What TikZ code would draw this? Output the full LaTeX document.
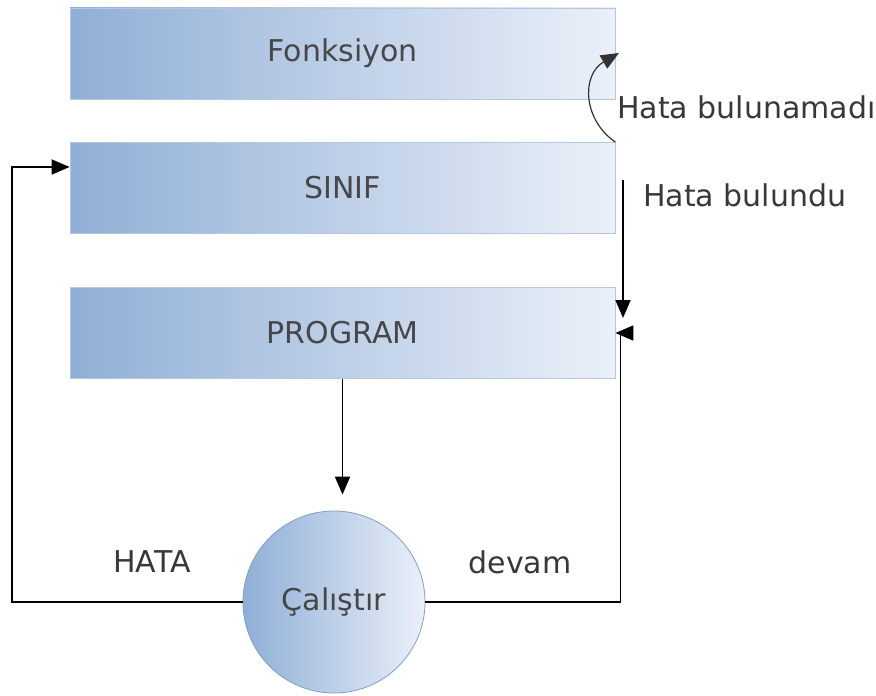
\documentclass[tikz,border=0pt]{standalone}
\usepackage{fontspec}
\setmainfont{DejaVu Sans}
\usepackage{xcolor}
\usetikzlibrary{positioning,arrows.meta}

\definecolor{boxleft}{HTML}{90AFD6}
\definecolor{boxright}{HTML}{EBF0F9}
\definecolor{boxedge}{HTML}{B4C7E2}
\definecolor{ringedge}{HTML}{7F9FCB}

\begin{document}
\begin{tikzpicture}[x=0.5pt,y=-0.5pt,
  layer/.style={draw=boxedge,left color=boxleft,right color=boxright,
    minimum width=272.5pt,minimum height=45.5pt,inner sep=0pt,
    font=\fontsize{15}{18}\selectfont,text=black!72},
  runner/.style={circle,draw=ringedge,left color=boxleft,right color=boxright,
    minimum size=91pt,inner sep=0pt,font=\fontsize{15}{18}\selectfont,text=black!72},
  link/.style={-{Triangle[length=9pt,width=7.5pt]},draw=black,line width=0.9pt},
  note/.style={font=\fontsize{15}{18}\selectfont,text=black!78}]
\useasboundingbox (0,0) rectangle (876,695);
\node[layer] (fonk) at (342.5,53.5) {Fonksiyon};
\node[layer] (sinif) at (342.5,188) {SINIF};
\node[layer] (prog) at (342.5,333) {PROGRAM};
\node[runner] (calis) at (334,602) {Çalıştır};
\coordinate (foundtop) at (623,180);
\coordinate (foundbot) at (623,318);
\coordinate (fonkhit) at (619,53);
% akis
\draw[link] (prog.south) -- (prog.south |- calis.north) [shorten >=8pt];
\draw[link] (calis.west) -| ([xshift=-29pt,yshift=10.5pt]sinif.west) -- ([yshift=10.5pt]sinif.west);
\draw[link] (calis.east) -| ([xshift=2.5pt]prog.east) -- (prog.east);
\draw[link] (foundtop) -- (foundbot);
\draw[link,line width=0.6pt,draw=black!80] (sinif.north east) .. controls (583,120) and (581,75) .. (fonkhit);
% etiketler
\node[note,anchor=west] (notfound) at (610,107) {Hata bulunamadı};
\node[note,anchor=west] (found) at (636,195) {Hata bulundu};
\node[note] (hata) at (152,562) {HATA};
\node[note] (devam) at (520,562) {devam};
\end{tikzpicture}
\end{document}
